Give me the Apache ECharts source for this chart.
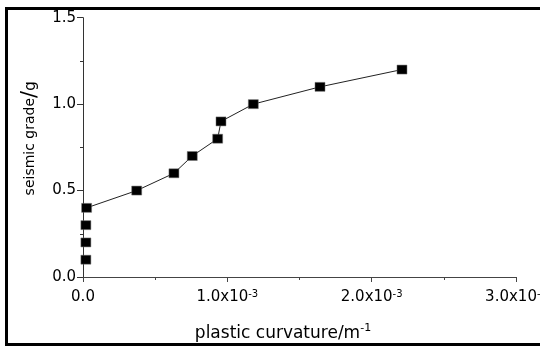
<!DOCTYPE html>
<html>
<head>
<meta charset="utf-8">
<script src="https://cdn.jsdelivr.net/npm/echarts@6/dist/echarts.min.js"></script>
<style>
html,body{margin:0;padding:0;background:#fff;overflow:hidden;}
#chart{width:540px;height:347px;}
</style>
</head>
<body>
<div id="chart"></div>
<script>
// Data
var curvature = [0.00002, 0.00002, 0.00002, 0.000025, 0.000372, 0.00063, 0.000757, 0.000933, 0.000956, 0.00118, 0.001642, 0.00221];
var grade = [0.1, 0.2, 0.3, 0.4, 0.5, 0.6, 0.7, 0.8, 0.9, 1.0, 1.1, 1.2];
// first three points are unconnected markers
var looseCount = 3;

var xTicks = [0, 0.001, 0.002, 0.003];
var xTickMant = ['0.0', '1.0x10', '2.0x10', '3.0x10'];
var xTickExp = ['', '-3', '-3', '-3'];
var yTicks = [0, 0.5, 1.0, 1.5];
var yTickLabels = ['0.0', '0.5', '1.0', '1.5'];

var xName = 'plastic curvature/m';
var xNameExp = '-1';
var yName = 'seismic grade';
var yNameUnit = 'g';

var loosePts = [], linePts = [];
for (var i = 0; i < curvature.length; i++) {
  if (i < looseCount) loosePts.push([curvature[i], grade[i]]);
  else linePts.push([curvature[i], grade[i]]);
}

function idxOf(arr, v) {
  for (var k = 0; k < arr.length; k++) if (Math.abs(arr[k] - v) < 1e-9) return k;
  return -1;
}

var FONT = 'DejaVu Sans';
var chart = echarts.init(document.getElementById('chart'), null, {renderer: 'canvas'});
chart.setOption({
  animation: false,
  backgroundColor: '#fff',
  grid: {left: 83, right: 24, top: 17.7, bottom: 70, containLabel: false, outerBoundsMode: 'none'},
  xAxis: {
    type: 'value', min: 0, max: 0.003, interval: 0.001,
    splitLine: {show: false},
    axisLine: {onZero: false, lineStyle: {color: '#444', width: 1}},
    axisTick: {length: 5, lineStyle: {color: '#444'}},
    minorTick: {show: true, splitNumber: 2, length: 3, lineStyle: {color: '#444'}},
    axisLabel: {
      margin: 12,
      hideOverlap: false,
      formatter: function (v) {
        var k = idxOf(xTicks, v);
        if (k < 0) return '';
        if (!xTickExp[k]) return '{b|' + xTickMant[k] + '}';
        return '{b|' + xTickMant[k] + '}{sup|' + xTickExp[k] + '}';
      },
      rich: {
        b: {fontFamily: FONT, fontSize: 15, color: '#000', lineHeight: 16, padding: [5, 0, 0, 0], verticalAlign: 'bottom'},
        sup: {fontFamily: FONT, fontSize: 10, color: '#000', lineHeight: 10, verticalAlign: 'top'}
      }
    },
    name: '{n|' + xName + '}{sup|' + xNameExp + '}',
    nameLocation: 'middle',
    nameGap: 46,
    nameTextStyle: {
      padding: [0, 33, 0, 0],
      rich: {
        n: {fontFamily: FONT, fontSize: 17, color: '#000', lineHeight: 19, padding: [5, 0, 0, 0], verticalAlign: 'bottom'},
        sup: {fontFamily: FONT, fontSize: 11, color: '#000', lineHeight: 11, verticalAlign: 'top'}
      }
    }
  },
  yAxis: {
    type: 'value', min: 0, max: 1.5, interval: 0.5,
    splitLine: {show: false},
    axisLine: {show: true, onZero: false, lineStyle: {color: '#333', width: 1}},
    axisTick: {show: true, length: 6, lineStyle: {color: '#333'}},
    minorTick: {show: true, splitNumber: 2, length: 3, lineStyle: {color: '#333'}},
    axisLabel: {
      margin: 7,
      fontFamily: FONT, fontSize: 15, color: '#000',
      formatter: function (v) {
        var k = idxOf(yTicks, v);
        return k < 0 ? '' : yTickLabels[k];
      }
    },
    name: '{n|' + yName + '}{s|/}{g|' + yNameUnit + '}',
    nameLocation: 'middle',
    nameRotate: 90,
    nameGap: 41,
    nameTextStyle: {
      padding: [0, 0, 0, 18],
      rich: {
        n: {fontFamily: FONT, fontSize: 14, color: '#000'},
        s: {fontFamily: FONT, fontSize: 21, color: '#000'},
        g: {fontFamily: FONT, fontSize: 15, color: '#000'}
      }
    }
  },
  series: [
    {
      type: 'scatter',
      data: loosePts,
      symbol: 'rect', symbolSize: [10, 9],
      itemStyle: {color: '#000', opacity: 1, borderColor: '#777', borderWidth: 0.5}
    },
    {
      type: 'line',
      data: linePts,
      symbol: 'rect', symbolSize: [10, 9], showSymbol: true,
      lineStyle: {color: '#222', width: 1},
      itemStyle: {color: '#000', opacity: 1, borderColor: '#777', borderWidth: 0.5}
    }
  ],
  graphic: [{
    type: 'rect', z: 100, silent: true,
    shape: {x: 6.5, y: 8.5, width: 700, height: 336},
    style: {fill: 'none', stroke: '#000', lineWidth: 3}
  }]
});
</script>
</body>
</html>
